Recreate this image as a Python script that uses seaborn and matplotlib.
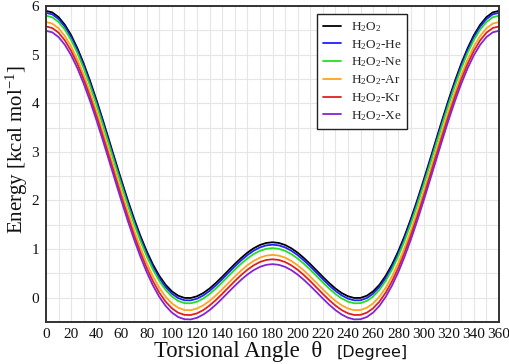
import matplotlib
matplotlib.use("Agg")
import matplotlib.pyplot as plt
import seaborn as sns
import pandas as pd
from matplotlib.ticker import MultipleLocator

# ---- data ----
angles = list(range(0, 361, 5))
series_names = ["H$_2$O$_2$", "H$_2$O$_2$-He", "H$_2$O$_2$-Ne",
                "H$_2$O$_2$-Ar", "H$_2$O$_2$-Kr", "H$_2$O$_2$-Xe"]
e_h2o2 = [5.900, 5.868, 5.771, 5.613, 5.398, 5.129, 4.814, 4.460, 4.075, 3.669, 3.249, 2.826, 2.409, 2.005, 1.624, 1.273, 0.957, 0.682, 0.451, 0.267, 0.131, 0.041, -0.004, -0.006, 0.029, 0.096, 0.189, 0.303, 0.429, 0.561, 0.692, 0.815, 0.925, 1.016, 1.084, 1.126, 1.140,
          1.126, 1.084, 1.016, 0.925, 0.815, 0.692, 0.561, 0.429, 0.303, 0.189, 0.096, 0.029, -0.006, -0.004, 0.041, 0.131, 0.267, 0.451, 0.682, 0.957, 1.273, 1.624, 2.005, 2.409, 2.826, 3.249, 3.669, 4.075, 4.460, 4.814, 5.129, 5.398, 5.613, 5.771, 5.868, 5.900]
e_he = [5.860, 5.828, 5.731, 5.573, 5.357, 5.088, 4.773, 4.418, 4.033, 3.627, 3.206, 2.783, 2.365, 1.961, 1.579, 1.227, 0.911, 0.635, 0.404, 0.220, 0.083, -0.007, -0.053, -0.055, -0.020, 0.047, 0.140, 0.253, 0.379, 0.511, 0.642, 0.765, 0.875, 0.966, 1.034, 1.076, 1.090,
        1.076, 1.034, 0.966, 0.875, 0.765, 0.642, 0.511, 0.379, 0.253, 0.140, 0.047, -0.020, -0.055, -0.053, -0.007, 0.083, 0.220, 0.404, 0.635, 0.911, 1.227, 1.579, 1.961, 2.365, 2.783, 3.206, 3.627, 4.033, 4.418, 4.773, 5.088, 5.357, 5.573, 5.731, 5.828, 5.860]
e_ne = [5.800, 5.768, 5.671, 5.513, 5.298, 5.029, 4.714, 4.360, 3.975, 3.569, 3.149, 2.726, 2.308, 1.904, 1.523, 1.171, 0.855, 0.579, 0.347, 0.162, 0.025, -0.066, -0.112, -0.115, -0.082, -0.016, 0.076, 0.189, 0.314, 0.445, 0.575, 0.697, 0.806, 0.897, 0.964, 1.006, 1.020,
        1.006, 0.964, 0.897, 0.806, 0.697, 0.575, 0.445, 0.314, 0.189, 0.076, -0.016, -0.082, -0.115, -0.112, -0.066, 0.025, 0.162, 0.347, 0.579, 0.855, 1.171, 1.523, 1.904, 2.308, 2.726, 3.149, 3.569, 3.975, 4.360, 4.714, 5.029, 5.298, 5.513, 5.671, 5.768, 5.800]
e_ar = [5.670, 5.638, 5.541, 5.383, 5.167, 4.898, 4.582, 4.228, 3.842, 3.435, 3.014, 2.590, 2.172, 1.768, 1.385, 1.033, 0.716, 0.440, 0.207, 0.022, -0.116, -0.207, -0.253, -0.257, -0.223, -0.157, -0.065, 0.048, 0.173, 0.304, 0.434, 0.557, 0.666, 0.756, 0.824, 0.866, 0.880,
        0.866, 0.824, 0.756, 0.666, 0.557, 0.434, 0.304, 0.173, 0.048, -0.065, -0.157, -0.223, -0.257, -0.253, -0.207, -0.116, 0.022, 0.207, 0.440, 0.716, 1.033, 1.385, 1.768, 2.172, 2.590, 3.014, 3.435, 3.842, 4.228, 4.582, 4.898, 5.167, 5.383, 5.541, 5.638, 5.670]
e_kr = [5.580, 5.547, 5.451, 5.292, 5.075, 4.806, 4.489, 4.134, 3.747, 3.339, 2.917, 2.492, 2.073, 1.668, 1.285, 0.932, 0.614, 0.338, 0.106, -0.080, -0.217, -0.308, -0.353, -0.356, -0.322, -0.255, -0.161, -0.048, 0.078, 0.210, 0.341, 0.464, 0.574, 0.665, 0.734, 0.776, 0.790,
        0.776, 0.734, 0.665, 0.574, 0.464, 0.341, 0.210, 0.078, -0.048, -0.161, -0.255, -0.322, -0.356, -0.353, -0.308, -0.217, -0.080, 0.106, 0.338, 0.614, 0.932, 1.285, 1.668, 2.073, 2.492, 2.917, 3.339, 3.747, 4.134, 4.489, 4.806, 5.075, 5.292, 5.451, 5.547, 5.580]
e_xe = [5.490, 5.458, 5.361, 5.202, 4.986, 4.717, 4.401, 4.046, 3.660, 3.251, 2.830, 2.406, 1.987, 1.582, 1.199, 0.846, 0.528, 0.251, 0.019, -0.167, -0.305, -0.397, -0.443, -0.447, -0.413, -0.347, -0.255, -0.143, -0.017, 0.114, 0.244, 0.366, 0.475, 0.566, 0.634, 0.676, 0.690,
        0.676, 0.634, 0.566, 0.475, 0.366, 0.244, 0.114, -0.017, -0.143, -0.255, -0.347, -0.413, -0.447, -0.443, -0.397, -0.305, -0.167, 0.019, 0.251, 0.528, 0.846, 1.199, 1.582, 1.987, 2.406, 2.830, 3.251, 3.660, 4.046, 4.401, 4.717, 4.986, 5.202, 5.361, 5.458, 5.490]
x_ticks = list(range(0, 361, 20))
y_ticks = [0, 1, 2, 3, 4, 5, 6]
colors = ["#000000", "#2020ff", "#22e022", "#ffa41f", "#e02020", "#8424d4"]

# ---- build tidy frame ----
all_vals = [e_h2o2, e_he, e_ne, e_ar, e_kr, e_xe]
rows = []
for name, vals in zip(series_names, all_vals):
    for a, v in zip(angles, vals):
        rows.append({"angle": a, "energy": v, "system": name})
df = pd.DataFrame(rows)

sns.set_theme(style="white")
plt.rcParams["font.family"] = ["Liberation Serif", "DejaVu Sans"]
plt.rcParams["mathtext.fontset"] = "custom"
plt.rcParams["mathtext.rm"] = "Liberation Serif"
plt.rcParams["mathtext.it"] = "Liberation Serif:italic"
plt.rcParams["mathtext.bf"] = "Liberation Serif:bold"

fig = plt.figure(figsize=(5.10, 3.64), dpi=100)
ax = fig.add_axes([46 / 510, 42 / 364, 453 / 510, 316 / 364])

sns.lineplot(data=df, x="angle", y="energy", hue="system", hue_order=series_names,
             palette=colors, estimator=None, sort=False, linewidth=1.3, ax=ax)

ax.set_xlim(0, 360)
ax.set_ylim(-0.5, 6)
ax.set_xticks(x_ticks)
ax.set_yticks(y_ticks)
ax.xaxis.set_minor_locator(MultipleLocator(10))
ax.yaxis.set_minor_locator(MultipleLocator(0.5))
ax.grid(True, which="both", color="#e6e6e6", linewidth=0.8)
ax.set_axisbelow(True)
ax.tick_params(axis="both", which="both", length=0, labelsize=11, colors="#111111")
ax.tick_params(axis="x", pad=4)
ax.tick_params(axis="y", pad=5)
for s in ax.spines.values():
    s.set_color("#333333")
    s.set_linewidth(1.4)

ax.set_xlabel("")
ax.set_ylabel("")
fig.text(16.5 / 510, 1 - 150 / 364, "Energy [kcal mol$^{-1}$]", rotation=90,
         ha="center", va="center", fontsize=15, color="#111111")
fig.text(322.5 / 510, 0.018, "Torsional Angle  θ", ha="right", va="baseline",
         fontsize=16.4, color="#111111")
fig.text(337 / 510, 0.018, "[Degree]", ha="left", va="baseline",
         fontsize=11.5, family="DejaVu Sans", color="#111111")

leg = ax.legend(loc="upper left", bbox_to_anchor=(0.598, 0.974), borderaxespad=0,
                fontsize=9.5, frameon=True, fancybox=False, framealpha=1,
                edgecolor="#222222", handlelength=1.4, handletextpad=0.7,
                labelspacing=0.3, borderpad=0.45)
leg.get_frame().set_linewidth(1.0)

fig.savefig("out.png", dpi=100)
